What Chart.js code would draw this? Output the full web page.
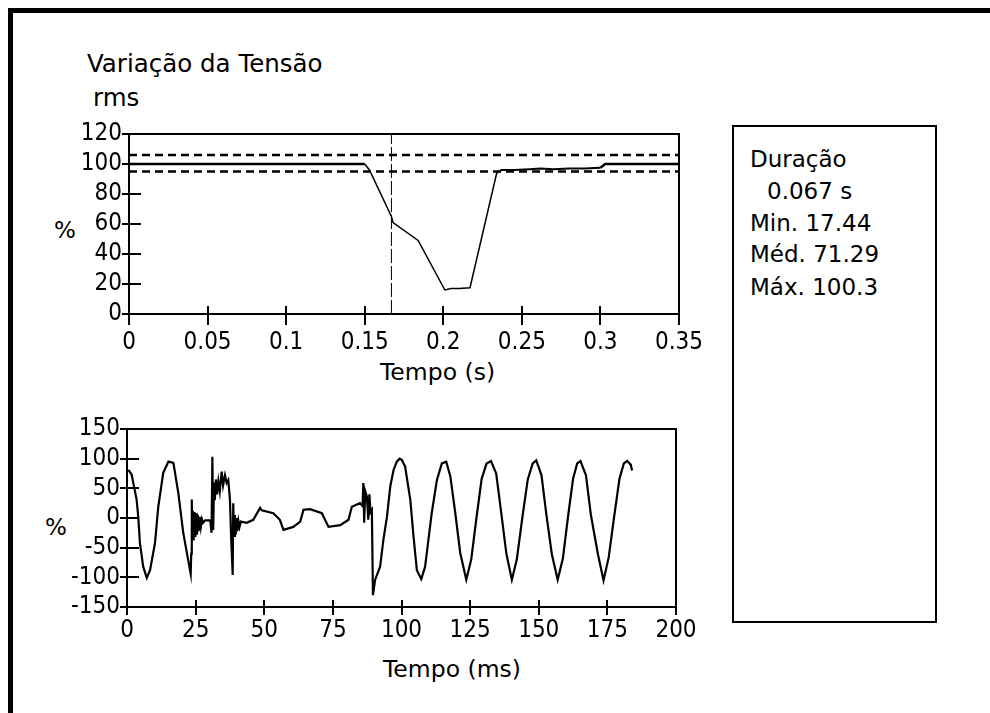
<!DOCTYPE html>
<html>
<head>
<meta charset="utf-8">
<script src="https://cdn.jsdelivr.net/npm/chart.js@4"></script>
<style>
  body { margin: 0; background: #fff; width: 990px; height: 713px; overflow: hidden; position: relative; font-family: "DejaVu Sans", sans-serif; color: #000; }
  .frame { position: absolute; left: 8px; top: 8px; width: 990px; height: 720px; border-top: 5px solid #000; border-left: 5px solid #000; }
  .txt { position: absolute; white-space: nowrap; font-size: 23px; line-height: 28px; }
  canvas { position: absolute; }
  .box { position: absolute; left: 732px; top: 125px; width: 205px; height: 498px; box-sizing: border-box; border: 2px solid #000; }
</style>
</head>
<body>
<div class="frame"></div>
<div class="txt" style="left:87px; top:50px; font-size:24.5px;">Variação da Tensão</div>
<div class="txt" style="left:93px; top:84px; font-size:24.5px;">rms</div>
<div class="txt" style="left:54px; top:216px;">%</div>
<div class="txt" style="left:45px; top:513px;">%</div>
<div class="txt" style="left:380px; top:358px; font-size:23.5px;">Tempo (s)</div>
<div class="txt" style="left:383px; top:655px; font-size:23.5px;">Tempo (ms)</div>

<canvas id="rms" width="720" height="274" style="left:0; top:100px;"></canvas>
<canvas id="onda" width="720" height="260" style="left:0; top:400px;"></canvas>

<div class="box"></div>
<div class="txt" style="left:750px; top:145px;">Duração</div>
<div class="txt" style="left:767px; top:177px;">0.067 s</div>
<div class="txt" style="left:750px; top:209px;">Min. 17.44</div>
<div class="txt" style="left:750px; top:240px;">Méd. 71.29</div>
<div class="txt" style="left:750px; top:273px;">Máx. 100.3</div>

<script>
// tensão rms (%) x tempo (s)
const rmsTime  = [0, 0.150, 0.153, 0.167, 0.168, 0.184, 0.201, 0.205, 0.210, 0.217, 0.234, 0.237, 0.245, 0.255, 0.262, 0.270, 0.280, 0.290, 0.300, 0.303, 0.350];
const rmsValue = [100, 100, 96, 65, 61, 49, 16, 17, 17, 17.5, 94, 96, 96, 96.5, 97, 96.5, 97, 97, 97.5, 100, 100];
const limitTime = [0, 0.35];
const limitHigh = [106, 106];
const limitLow = [95, 95];
const markerTime = [0.167, 0.167];
const markerValue = [0, 120];
const rmsXTicks = [0, 0.05, 0.1, 0.15, 0.2, 0.25, 0.3, 0.35];
const rmsYTicks = [0, 20, 40, 60, 80, 100, 120];

// forma de onda (%) x tempo (ms)
const waveTime = [0.5, 1.7, 3.5, 4.1, 4.7, 5.9, 7.2, 8.4, 10.2, 11.4, 13.2, 15.1, 16.9, 18.7, 20.5, 22.3,
  23.2, 23.4, 23.6, 23.8, 24.0, 24.3, 24.6, 24.9, 25.2, 25.5, 25.8, 26.1, 26.5, 26.9, 27.3, 27.7, 28.5, 30.3, 30.8,
  31.1, 31.4, 31.7, 32.0, 32.4, 32.8, 33.3, 33.8, 34.5, 35.0, 35.7, 36.3, 36.9, 37.5, 38.0, 38.5, 38.7,
  39.0, 39.3, 39.6, 39.9, 40.2, 40.6, 41.0, 41.5, 43.6, 46.0, 48.5, 49.1, 53.3, 55.7, 57.0, 60.6, 63.1,
  64.3, 66.7, 71.0, 73.4, 77.7, 80.7, 81.9, 84.9, 85.8, 86.1, 86.4, 86.8, 87.4, 87.9, 88.3, 88.7, 89.2, 89.6, 90.4, 92.2,
  93.4, 94.7, 95.9, 97.1, 98.3, 99.3, 100.1, 101.3, 103.2, 104.4, 105.6, 107.2, 108.6, 109.8, 111.0, 112.9, 114.7, 116.3, 117.8, 119.6,
  121.4, 123.6, 125.4, 127.3, 129.2, 131.0, 132.6, 134.5, 136.3, 138.2, 140.2, 142.0, 144.0, 146.0, 147.8, 149.1, 151.0, 152.8, 154.8, 156.9,
  158.8, 160.6, 162.5, 164.0, 165.2, 167.2, 169.0, 171.6, 173.6, 175.5, 177.4, 179.4, 181.0, 182.2, 183.5, 184.0];
const waveValue = [81, 73, 31, 2, -42, -82, -101, -88, -42, 19, 76, 95, 93, 42, -25, -71,
  -94, -60, 31, -35, 12, -38, 10, -32, 8, -28, 5, -22, 2, -15, -2, -8, -4, -4, -25,
  103, -20, 60, 30, 65, 40, 62, 45, 78, 55, 72, 59, 64, 31, -40, -96, 25,
  -30, 5, -28, 0, -22, -5, -15, -6, -8, -3, 17, 13, 8, -3, -20, -15, -6,
  14, 15, 8, -15, -12, -3, 19, 25, 20, 59, -8, 45, 36, -3, 40, 10, 14, -130, -104, -82,
  -37, 2, 53, 81, 95, 100, 98, 87, 31, -32, -88, -103, -82, -37, 8, 64, 92, 95, 70, 8,
  -59, -104, -70, 0, 66, 92, 96, 75, 10, -60, -104, -70, 0, 65, 92, 97, 72, 5, -62, -104,
  -68, 0, 66, 92, 96, 72, 5, -62, -105, -66, 0, 66, 92, 96, 90, 80];
const waveXTicks = [0, 25, 50, 75, 100, 125, 150, 175, 200];
const waveYTicks = [-150, -100, -50, 0, 50, 100, 150];

function pontos(xs, ys) {
  return xs.map((x, i) => ({ x: x, y: ys[i] }));
}

const tickFont = { family: '"DejaVu Sans Condensed", "DejaVu Sans", sans-serif', size: 24 };

// moldura do gráfico e marcas internas dos eixos
const moldura = {
  id: 'moldura',
  afterDatasetsDraw(chart, args, opts) {
    const { ctx, chartArea: a, scales } = chart;
    ctx.save();
    ctx.strokeStyle = '#000';
    ctx.lineWidth = 2;
    ctx.strokeRect(a.left, a.top, a.right - a.left, a.bottom - a.top);
    ctx.beginPath();
    scales.y.ticks.forEach(t => {
      const py = Math.round(scales.y.getPixelForValue(t.value));
      if (py > a.top + 2 && py < a.bottom - 2) {
        ctx.moveTo(a.left, py);
        ctx.lineTo(a.left + opts.y, py);
      }
    });
    scales.x.ticks.forEach(t => {
      const px = Math.round(scales.x.getPixelForValue(t.value));
      if (px > a.left + 2 && px < a.right - 2) {
        ctx.moveTo(px, a.bottom);
        ctx.lineTo(px, a.bottom - opts.x);
      }
    });
    ctx.stroke();
    ctx.restore();
  }
};

function eixo(min, max, ticks, tickLen, pad, size) {
  return {
    type: 'linear',
    min: min,
    max: max,
    afterBuildTicks: s => { s.ticks = ticks.map(v => ({ value: v })); },
    ticks: { font: tickFont, color: '#000', padding: pad, maxRotation: 0, autoSkip: false, callback: v => String(v) },
    grid: { drawOnChartArea: false, drawTicks: true, tickLength: tickLen, color: '#000', lineWidth: 2 },
    border: { display: false },
    afterFit: s => { if (s.isHorizontal()) s.height = size; else s.width = size; }
  };
}

new Chart(document.getElementById('rms'), {
  type: 'line',
  data: {
    datasets: [
      { data: pontos(rmsTime, rmsValue), borderColor: '#000', borderWidth: 1.5, pointRadius: 0,
        segment: { borderWidth: c => c.p0.parsed.x < 0.15 || c.p0.parsed.x >= 0.3 ? 2.5 : (c.p0.parsed.x >= 0.234 ? 2 : 1.5) } },
      { data: pontos(limitTime, limitHigh), borderColor: '#000', borderWidth: 2.5, borderDash: [8, 5], pointRadius: 0 },
      { data: pontos(limitTime, limitLow), borderColor: '#000', borderWidth: 2.5, borderDash: [8, 5], pointRadius: 0 },
      { data: pontos(markerTime, markerValue), borderColor: '#000', borderWidth: 1, borderDash: [14, 3], pointRadius: 0 }
    ]
  },
  options: {
    responsive: false,
    animation: false,
    layout: { padding: { top: 34, right: 41, left: 0, bottom: 0 } },
    plugins: { legend: { display: false }, tooltip: { enabled: false }, moldura: { x: 8, y: 12 } },
    scales: {
      x: eixo(0, 0.35, rmsXTicks, 11, 3, 60),
      y: eixo(0, 120, rmsYTicks, 7, 0, 129)
    }
  },
  plugins: [moldura]
});

new Chart(document.getElementById('onda'), {
  type: 'line',
  data: {
    datasets: [
      { data: pontos(waveTime, waveValue), borderColor: '#000', borderWidth: 2.2, pointRadius: 0 }
    ]
  },
  options: {
    responsive: false,
    animation: false,
    layout: { padding: { top: 29, right: 44, left: 0, bottom: 0 } },
    plugins: { legend: { display: false }, tooltip: { enabled: false }, moldura: { x: 7, y: 12 } },
    scales: {
      x: eixo(0, 200, waveXTicks, 8, 1, 53),
      y: eixo(-150, 150, waveYTicks, 7, 0, 127)
    }
  },
  plugins: [moldura]
});
</script>
</body>
</html>
